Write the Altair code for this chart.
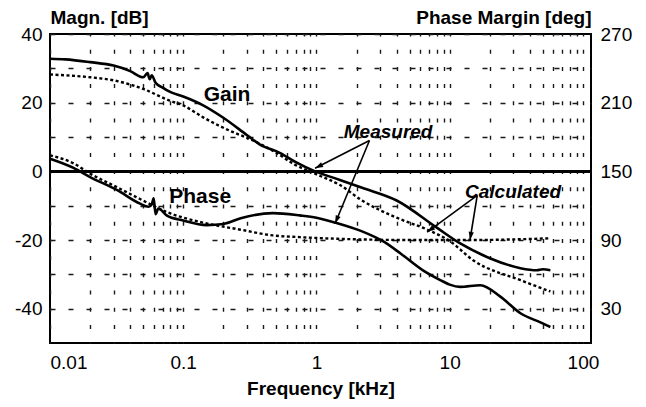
import math
import altair as alt
import pandas as pd

FONT = "Liberation Sans"

# ---- Gain, measured (kHz, dB)
gm_f = [0.01, 0.013, 0.02, 0.03, 0.04, 0.05, 0.054, 0.056, 0.058, 0.062, 0.07, 0.079,
        0.1, 0.14, 0.2, 0.3, 0.377, 0.53, 0.7, 0.95, 1.5, 2.2, 4.0, 8.0, 12, 20, 34, 45, 50, 57]
gm_db = [32.8, 32.6, 31.8, 30.8, 29.2, 27.4, 28.6, 26.8, 28.0, 25.8, 24.4, 23.2,
         21.8, 19.3, 15.6, 10.6, 7.8, 5.4, 2.7, 0.2, -2.5, -4.8, -8.5, -16.4, -21.0, -25.3, -28.2, -28.8, -28.5, -28.8]

# ---- Gain, calculated (kHz, dB)
gc_f = [0.01, 0.02, 0.03, 0.05, 0.079, 0.1, 0.14, 0.237, 0.3, 0.5, 0.67, 0.95,
        1.5, 2.2, 4.0, 7.0, 10, 15, 34, 57]
gc_db = [28.2, 27.4, 26.5, 24.0, 20.6, 19.2, 15.8, 11.4, 9.8, 5.4, 2.2, -0.5,
         -4.0, -8.5, -13.5, -17.2, -20.3, -25.9, -31.7, -35.0]

# ---- Phase margin, measured (kHz, deg)
pm_f = [0.01, 0.015, 0.02, 0.032, 0.047, 0.055, 0.058, 0.06, 0.062, 0.065, 0.075,
        0.1, 0.15, 0.2, 0.27, 0.47, 0.75, 1.0, 1.4, 2.2, 3.2, 4.3, 6.3, 8.5, 10, 12, 17, 24, 34, 48, 57]
pm_deg = [161, 153, 145, 133.5, 122, 119, 121, 126.5, 112.5, 117.5, 111.5,
          107, 103, 104, 109, 113.5, 111.5, 109.5, 105, 97.5, 88.5, 78, 63.5, 55, 51, 49, 50.5, 40.5, 26, 18, 14]

# ---- Phase margin, calculated (kHz, deg)
pc_f = [0.01, 0.015, 0.02, 0.032, 0.047, 0.075, 0.15, 0.27, 0.47, 0.75, 1.5, 5, 15, 30, 57]
pc_deg = [164, 157, 148, 136, 126, 114.5, 104.5, 99, 94, 92.5, 91, 90, 90, 90.5, 91.5]

# ---- axis tick values
x_ticks = [round(m * 10 ** k, 6) for k in (-2, -1, 0, 1) for m in range(1, 10)] + [100]
ydb_ticks = [-40, -30, -20, -10, 0, 10, 20, 30, 40]
ydeg_ticks = [30, 90, 150, 210, 270]

# ---- annotations
ann_text = ["Gain", "Phase"]
ann_f = [0.213, 0.134]
ann_db = [20.6, -9.3]
lab_text = ["Measured", "Calculated"]
lab_f = [3.45, 29.9]
lab_db = [9.6, -7.8]
arrow_f1 = [2.5, 2.5, 16.1, 16.1]
arrow_db1 = [9.0, 9.0, -7.0, -7.0]
arrow_f2 = [0.976, 1.38, 6.77, 14.2]
arrow_db2 = [0.9, -15.2, -17.7, -20.0]

W, H = 541, 309
XMIN, XMAX = 0.01, 115
YMIN, YMAX = -50, 40


def px(f):
    return W * (math.log10(f) - math.log10(XMIN)) / (math.log10(XMAX) - math.log10(XMIN))


def py(d):
    return H * (YMAX - d) / (YMAX - YMIN)


angles = []
for f1, d1, f2, d2 in zip(arrow_f1, arrow_db1, arrow_f2, arrow_db2):
    dx = px(f2) - px(f1)
    dy = py(d2) - py(d1)
    angles.append(math.degrees(math.atan2(dx, -dy)) % 360)

gm = pd.DataFrame({"f": gm_f, "v": gm_db})
gc = pd.DataFrame({"f": gc_f, "v": gc_db})
pm = pd.DataFrame({"f": pm_f, "v": pm_deg})
pc = pd.DataFrame({"f": pc_f, "v": pc_deg})
ann = pd.DataFrame({"f": ann_f, "v": ann_db, "t": ann_text})
lab = pd.DataFrame({"f": lab_f, "v": lab_db, "t": lab_text})
arr = pd.DataFrame({"f1": arrow_f1, "v1": arrow_db1, "f2": arrow_f2, "v2": arrow_db2, "a": angles})

xs = alt.Scale(type="log", domain=[XMIN, XMAX], nice=False)
ys_db = alt.Scale(domain=[YMIN, YMAX], nice=False, zero=False)
ys_deg = alt.Scale(domain=[0, 270], nice=False, zero=False)

x_axis = alt.Axis(
    values=x_ticks, format="~g",
    labelExpr="abs(log(datum.value)/LN10 - round(log(datum.value)/LN10)) < 0.001 ? datum.label : ''",
    labelOverlap=False, labelFlush=True,
    grid=True, gridDash=[4, 13.2], gridDashOffset=2, gridColor="#1a1a1a", gridWidth=1.4,
    ticks=False, domain=False,
    labelFont=FONT, labelFontSize=19, labelColor="black", labelPadding=10,
    title="Frequency [kHz]", titleFont=FONT, titleFontSize=19, titleFontWeight="bold",
    titleColor="black", titleBaseline="alphabetic", titleY=51,
)
y_left_axis = alt.Axis(
    orient="left", values=ydb_ticks,
    labelExpr="datum.value % 20 == 0 ? toString(datum.value) : ''",
    grid=True, gridDash=[5, 13], gridColor="#1a1a1a", gridWidth=1.4,
    ticks=False, domain=False,
    labelFont=FONT, labelFontSize=19, labelColor="black", labelPadding=8,
    title="Magn. [dB]", titleAngle=0, titleAlign="left", titleX=0, titleY=-11,
    titleBaseline="alphabetic", titleFont=FONT, titleFontSize=19, titleFontWeight="bold",
    titleColor="black",
)
y_right_axis = alt.Axis(
    orient="right", values=ydeg_ticks, grid=False, ticks=False, domain=False,
    labelFont=FONT, labelFontSize=19, labelColor="black", labelPadding=9,
    title="Phase Margin [deg]", titleAngle=0, titleAlign="right", titleX=0, titleY=-11,
    titleBaseline="alphabetic", titleFont=FONT, titleFontSize=19, titleFontWeight="bold",
    titleColor="black",
)

solid = dict(color="black", strokeWidth=2.6, interpolate="monotone")
dotted = dict(color="black", strokeWidth=2.4, strokeDash=[3, 2.5], interpolate="monotone")


def X(field):
    return alt.X(field, scale=xs, axis=x_axis)


gain_meas = alt.Chart(gm).mark_line(**solid).encode(
    x=X("f:Q"),
    y=alt.Y("v:Q", scale=ys_db, axis=y_left_axis),
)
phase_meas = alt.Chart(pm).mark_line(**solid).encode(
    x=X("f:Q"),
    y=alt.Y("v:Q", scale=ys_deg, axis=y_right_axis),
)
gain_calc = alt.Chart(gc).mark_line(**dotted).encode(
    x=X("f:Q"),
    y=alt.Y("v:Q", scale=ys_db, axis=None),
)
phase_calc = alt.Chart(pc).mark_line(**dotted).encode(
    x=X("f:Q"),
    y=alt.Y("v:Q", scale=ys_deg, axis=None),
)
zero_line = alt.Chart(gm).mark_rule(color="black", strokeWidth=2).encode(
    y=alt.Y(datum=0, scale=ys_db, axis=None),
)
ann_marks = alt.Chart(ann).mark_text(
    font=FONT, fontSize=21, fontWeight="bold", color="black", align="center", baseline="alphabetic"
).encode(
    x=X("f:Q"),
    y=alt.Y("v:Q", scale=ys_db, axis=None),
    text="t:N",
)
lab_marks = alt.Chart(lab).mark_text(
    font=FONT, fontSize=19, fontWeight="bold", fontStyle="italic", color="black",
    align="center", baseline="alphabetic"
).encode(
    x=X("f:Q"),
    y=alt.Y("v:Q", scale=ys_db, axis=None),
    text="t:N",
)
arrow_lines = alt.Chart(arr).mark_rule(color="black", strokeWidth=1.6).encode(
    x=X("f1:Q"),
    x2="f2:Q",
    y=alt.Y("v1:Q", scale=ys_db, axis=None),
    y2="v2:Q",
)
arrow_heads = alt.Chart(arr).mark_point(
    shape="M0,0 L-0.55,1.7 L0.55,1.7 Z", filled=True, color="black", opacity=1, size=90
).encode(
    x=X("f2:Q"),
    y=alt.Y("v2:Q", scale=ys_db, axis=None),
    angle=alt.Angle("a:Q", scale=None),
)

chart = alt.layer(
    gain_meas, phase_meas, gain_calc, phase_calc, zero_line,
    arrow_lines, arrow_heads, ann_marks, lab_marks,
).resolve_scale(y="independent").properties(
    width=W, height=H,
    autosize=alt.AutoSizeParams(type="none"),
    padding={"left": 42, "top": 26, "right": 47, "bottom": 56},
    background="white",
).configure_view(stroke="black", strokeWidth=2)

chart.save("out.html", embed_options={"renderer": "svg", "actions": False})
